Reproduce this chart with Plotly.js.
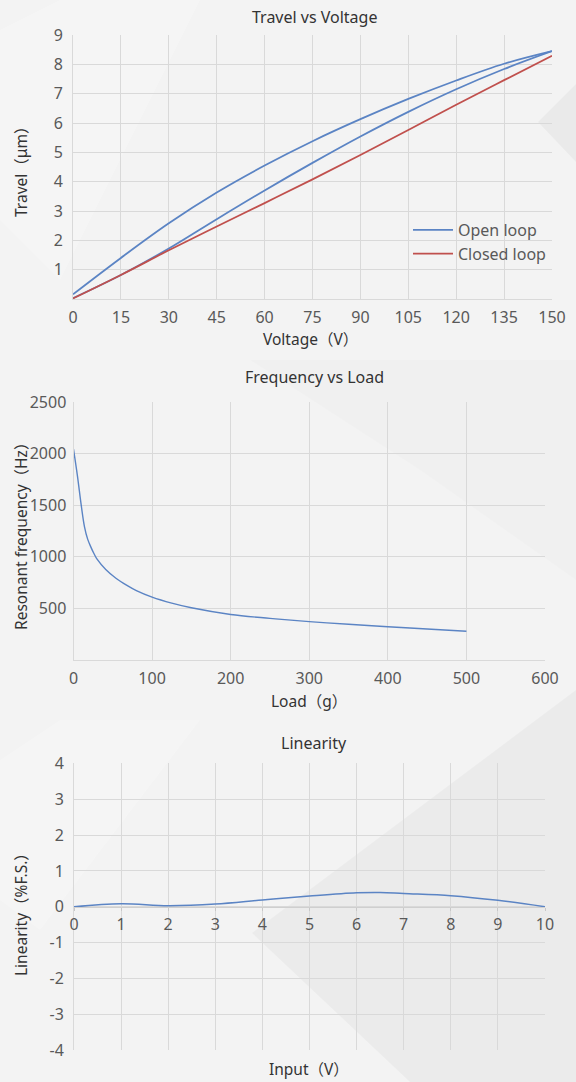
<!DOCTYPE html>
<html>
<head>
<meta charset="utf-8">
<script src="https://cdn.plot.ly/plotly-3.0.1.min.js"></script>
<style>
html,body{margin:0;padding:0;background:#f3f3f3;}
#chart{width:576px;height:1082px;}
</style>
</head>
<body>
<div id="chart"></div>
<script>
// ---- Chart 1: Travel vs Voltage ----
const voltageRise = [0, 15, 30, 45, 60, 75, 90, 105, 120, 135, 150];
const travelRise  = [0.03, 0.82, 1.72, 2.72, 3.70, 4.64, 5.54, 6.38, 7.15, 7.84, 8.45];
const voltageFall = [150, 135, 120, 105, 90, 75, 60, 45, 30, 15, 0];
const travelFall  = [8.45, 8.02, 7.45, 6.82, 6.13, 5.38, 4.55, 3.63, 2.58, 1.40, 0.16];
const closedVoltage = [0, 15, 30, 45, 60, 75, 90, 105, 120, 135, 150];
const closedTravel  = [0.02, 0.82, 1.66, 2.47, 3.27, 4.08, 4.91, 5.76, 6.62, 7.46, 8.29];
const voltageTicks = [0, 15, 30, 45, 60, 75, 90, 105, 120, 135, 150];
const travelTicks = [1, 2, 3, 4, 5, 6, 7, 8, 9];

// ---- Chart 2: Frequency vs Load ----
const loadGrams = [0, 5, 10, 14, 18, 22, 26, 30, 41, 54, 68, 80, 100, 125, 150, 200, 250, 300, 350, 400, 450, 500];
const resonantHz = [2045, 1785, 1490, 1290, 1170, 1095, 1030, 975, 875, 790, 720, 669, 606, 548, 503, 438, 400, 368, 343, 319, 297, 274];
const loadTicks = [0, 100, 200, 300, 400, 500, 600];
const freqTicks = [500, 1000, 1500, 2000, 2500];

// ---- Chart 3: Linearity ----
const inputVolts = [0, 1, 2, 3, 4, 5, 6, 6.5, 7, 8, 9, 10];
const linearityPct = [0, 0.085, 0.03, 0.075, 0.19, 0.30, 0.39, 0.40, 0.37, 0.31, 0.18, 0];
const inputTicks = [0, 1, 2, 3, 4, 5, 6, 7, 8, 9, 10];
const linTicks = [-4, -3, -2, -1, 0, 1, 2, 3, 4];

const W = 576, H = 1082;
const px = v => v / W;
const py = v => 1 - v / H;

const FONT = 'Noto Sans, "Noto Sans CJK SC", "Open Sans", sans-serif';
const GRID = '#d9d9d9';
const TICKC = '#595959';
const TITLEC = '#333333';
const BLUE = '#5b84c4';
const RED = '#c0504d';

const traces = [
  {x: voltageRise, y: travelRise, xaxis: 'x', yaxis: 'y', mode: 'lines', name: 'Open loop',
   legendgroup: 'open', line: {color: BLUE, width: 1.8, shape: 'spline'}},
  {x: voltageFall, y: travelFall, xaxis: 'x', yaxis: 'y', mode: 'lines', name: 'Open loop',
   legendgroup: 'open', showlegend: false, line: {color: BLUE, width: 1.8, shape: 'spline'}},
  {x: closedVoltage, y: closedTravel, xaxis: 'x', yaxis: 'y', mode: 'lines', name: 'Closed loop',
   line: {color: RED, width: 1.8, shape: 'spline'}},
  {x: loadGrams, y: resonantHz, xaxis: 'x2', yaxis: 'y2', mode: 'lines', name: 'Resonant frequency',
   showlegend: false, line: {color: BLUE, width: 1.4, shape: 'spline'}},
  {x: inputVolts, y: linearityPct, xaxis: 'x3', yaxis: 'y3', mode: 'lines', name: 'Linearity',
   showlegend: false, line: {color: BLUE, width: 1.5, shape: 'spline'}}
];

const tickFont = {family: FONT, size: 16, color: TICKC};
function xax(domain, range, ticks, anchor) {
  return {domain: domain, range: range, tickvals: ticks, ticktext: ticks.map(String), anchor: anchor,
    showgrid: true, gridcolor: GRID, gridwidth: 1, zeroline: false,
    showline: true, linecolor: GRID, linewidth: 1,
    ticks: 'outside', ticklen: 4, tickcolor: 'rgba(0,0,0,0)',
    tickfont: tickFont, fixedrange: true};
}
function yax(domain, range, ticks, anchor, tl) {
  return {domain: domain, range: range, tickvals: ticks, ticktext: ticks.map(String), anchor: anchor,
    showgrid: true, gridcolor: GRID, gridwidth: 1, zeroline: false,
    showline: true, linecolor: GRID, linewidth: 1,
    ticks: 'outside', ticklen: tl, tickcolor: 'rgba(0,0,0,0)',
    tickfont: tickFont, fixedrange: true};
}

const x3 = xax([px(74), px(545)], [0, 10], inputTicks, 'free');
x3.position = (py(1050.3) + py(763.3)) / 2;
x3.ticks = 'outside'; x3.ticklen = 3; x3.tickcolor = '#c8c8c8'; x3.linecolor = '#cfcfcf';

function ann(text, x, y, size, angle, color) {
  return {text: text, xref: 'paper', yref: 'paper', x: px(x), y: py(y), xanchor: 'center', yanchor: 'middle',
    showarrow: false, textangle: angle || 0, font: {family: FONT, size: size, color: color || TITLEC}};
}

const shapes = [
  // subtle background facets
  {type: 'path', xref: 'paper', yref: 'paper', layer: 'below', line: {width: 0}, fillcolor: 'rgba(0,0,0,0.03)',
   path: `M ${px(252)},${py(933)} L ${px(576)},${py(690)} L ${px(576)},${py(1082)} L ${px(410)},${py(1082)} Z`},
  {type: 'path', xref: 'paper', yref: 'paper', layer: 'below', line: {width: 0}, fillcolor: 'rgba(0,0,0,0.035)',
   path: `M ${px(538)},${py(122)} L ${px(576)},${py(84)} L ${px(576)},${py(162)} Z`},
  {type: 'path', xref: 'paper', yref: 'paper', layer: 'below', line: {width: 0}, fillcolor: 'rgba(255,255,255,0.22)',
   path: `M ${px(0)},${py(30)} L ${px(60)},${py(0)} L ${px(200)},${py(0)} L ${px(60)},${py(280)} L ${px(0)},${py(220)} Z`},
  {type: 'path', xref: 'paper', yref: 'paper', layer: 'below', line: {width: 0}, fillcolor: 'rgba(0,0,0,0.012)',
   path: `M ${px(250)},${py(360)} L ${px(576)},${py(360)} L ${px(576)},${py(580)} L ${px(420)},${py(470)} Z`},
  {type: 'path', xref: 'paper', yref: 'paper', layer: 'below', line: {width: 0}, fillcolor: 'rgba(255,255,255,0.2)',
   path: `M ${px(0)},${py(760)} L ${px(60)},${py(720)} L ${px(200)},${py(720)} L ${px(40)},${py(930)} L ${px(0)},${py(900)} Z`}
];

const layout = {
  width: W, height: H,
  margin: {l: 0, r: 0, t: 0, b: 0},
  paper_bgcolor: '#f3f3f3',
  plot_bgcolor: 'rgba(0,0,0,0)',
  font: {family: FONT, color: TICKC},
  showlegend: true,
  legend: {x: px(408), y: py(213), xanchor: 'left', yanchor: 'top', bgcolor: 'rgba(0,0,0,0)',
    font: {family: FONT, size: 16, color: TICKC}, tracegroupgap: 0, itemwidth: 40},
  xaxis: xax([px(73), px(552)], [0, 150], voltageTicks, 'y'),
  yaxis: yax([py(299), py(35)], [0, 9], travelTicks, 'x', 6),
  xaxis2: xax([px(73.5), px(545)], [0, 600], loadTicks, 'y2'),
  yaxis2: yax([py(659.5), py(402.3)], [0, 2500], freqTicks, 'x2', 3),
  xaxis3: x3,
  yaxis3: yax([py(1050.3), py(763.3)], [-4, 4], linTicks, 'x3', 6),
  shapes: shapes,
  annotations: [
    ann('Travel vs Voltage', 314, 17, 16),
    ann('Voltage（V）', 310, 339, 15.5),
    ann('Travel（μm）', 21, 168, 15.5, -90),
    ann('Frequency vs Load', 314, 377, 16),
    ann('Load（g）', 309, 701, 15.5),
    ann('Resonant frequency（Hz）', 21, 533, 15.5, -90),
    ann('Linearity', 314, 743, 16),
    ann('Input（V）', 309, 1069, 15.5),
    ann('Linearity（%F.S.）', 21, 911, 15.5, -90)
  ]
};

Plotly.newPlot('chart', traces, layout, {displayModeBar: false, staticPlot: true});
</script>
</body>
</html>
